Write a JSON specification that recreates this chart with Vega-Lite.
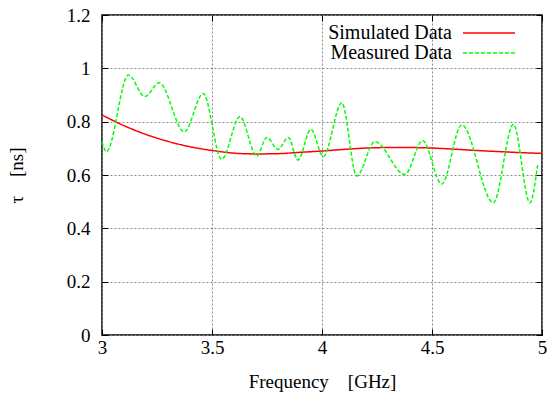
{
  "$schema": "https://vega.github.io/schema/vega-lite/v6.json",
  "width": 440,
  "height": 320,
  "autosize": {"type": "none"},
  "padding": {"left": 102, "top": 15, "right": 6, "bottom": 64},
  "background": "#ffffff",
  "config": {
    "view": {"stroke": "#000000", "strokeWidth": 1.5},
    "font": "Liberation Serif",
    "axis": {
      "labelFont": "Liberation Serif", "labelFontSize": 19, "labelColor": "#000000",
      "titleFont": "Liberation Serif", "titleFontSize": 19, "titleFontWeight": "normal", "titleColor": "#000000",
      "domain": false, "tickColor": "#000000", "tickSize": -6, "tickWidth": 1,
      "gridColor": "#888888", "gridDash": [2, 2], "gridWidth": 1
    },
    "legend": {
      "labelFont": "Liberation Serif", "labelFontSize": 20, "labelColor": "#000000",
      "labelAlign": "right", "labelOffset": -47, "labelLimit": 400,
      "symbolType": "M-5.2,0H5.2", "symbolSize": 100, "symbolStrokeWidth": 1.5,
      "rowPadding": 0, "padding": 0
    }
  },
  "data": {
    "values": [
      {"f": 3.0, "tau": 0.825, "series": "Simulated Data"},
      {"f": 3.1, "tau": 0.785, "series": "Simulated Data"},
      {"f": 3.2, "tau": 0.752, "series": "Simulated Data"},
      {"f": 3.3, "tau": 0.726, "series": "Simulated Data"},
      {"f": 3.4, "tau": 0.706, "series": "Simulated Data"},
      {"f": 3.5, "tau": 0.692, "series": "Simulated Data"},
      {"f": 3.6, "tau": 0.682, "series": "Simulated Data"},
      {"f": 3.7, "tau": 0.679, "series": "Simulated Data"},
      {"f": 3.8, "tau": 0.68, "series": "Simulated Data"},
      {"f": 3.9, "tau": 0.685, "series": "Simulated Data"},
      {"f": 4.0, "tau": 0.69, "series": "Simulated Data"},
      {"f": 4.1, "tau": 0.696, "series": "Simulated Data"},
      {"f": 4.2, "tau": 0.701, "series": "Simulated Data"},
      {"f": 4.3, "tau": 0.703, "series": "Simulated Data"},
      {"f": 4.4, "tau": 0.703, "series": "Simulated Data"},
      {"f": 4.5, "tau": 0.701, "series": "Simulated Data"},
      {"f": 4.6, "tau": 0.697, "series": "Simulated Data"},
      {"f": 4.7, "tau": 0.692, "series": "Simulated Data"},
      {"f": 4.8, "tau": 0.688, "series": "Simulated Data"},
      {"f": 4.9, "tau": 0.684, "series": "Simulated Data"},
      {"f": 5.0, "tau": 0.681, "series": "Simulated Data"},
      {"f": 3.0, "tau": 0.725, "series": "Measured Data"},
      {"f": 3.02, "tau": 0.687, "series": "Measured Data"},
      {"f": 3.12, "tau": 0.975, "series": "Measured Data"},
      {"f": 3.195, "tau": 0.894, "series": "Measured Data"},
      {"f": 3.26, "tau": 0.946, "series": "Measured Data"},
      {"f": 3.374, "tau": 0.762, "series": "Measured Data"},
      {"f": 3.46, "tau": 0.906, "series": "Measured Data"},
      {"f": 3.544, "tau": 0.659, "series": "Measured Data"},
      {"f": 3.627, "tau": 0.819, "series": "Measured Data"},
      {"f": 3.703, "tau": 0.671, "series": "Measured Data"},
      {"f": 3.749, "tau": 0.741, "series": "Measured Data"},
      {"f": 3.8, "tau": 0.696, "series": "Measured Data"},
      {"f": 3.847, "tau": 0.741, "series": "Measured Data"},
      {"f": 3.89, "tau": 0.656, "series": "Measured Data"},
      {"f": 3.95, "tau": 0.771, "series": "Measured Data"},
      {"f": 4.006, "tau": 0.669, "series": "Measured Data"},
      {"f": 4.09, "tau": 0.871, "series": "Measured Data"},
      {"f": 4.158, "tau": 0.596, "series": "Measured Data"},
      {"f": 4.24, "tau": 0.725, "series": "Measured Data"},
      {"f": 4.377, "tau": 0.602, "series": "Measured Data"},
      {"f": 4.457, "tau": 0.729, "series": "Measured Data"},
      {"f": 4.544, "tau": 0.566, "series": "Measured Data"},
      {"f": 4.635, "tau": 0.788, "series": "Measured Data"},
      {"f": 4.779, "tau": 0.496, "series": "Measured Data"},
      {"f": 4.87, "tau": 0.79, "series": "Measured Data"},
      {"f": 4.945, "tau": 0.496, "series": "Measured Data"},
      {"f": 4.98, "tau": 0.637, "series": "Measured Data"}
    ]
  },
  "layer": [
    {
      "mark": {"type": "line", "strokeWidth": 1.5, "interpolate": "monotone"},
      "encoding": {
        "x": {"field": "f", "type": "quantitative",
              "scale": {"domain": [3, 5], "nice": false, "zero": false},
              "axis": {"title": "Frequency\u00a0\u00a0\u00a0\u00a0[GHz]", "values": [3, 3.5, 4, 4.5, 5], "format": ".1~f", "labelPadding": 9, "titlePadding": 15, "labelFlush": false}},
        "y": {"field": "tau", "type": "quantitative",
              "scale": {"domain": [0, 1.2], "nice": false},
              "axis": {"title": "τ\u00a0\u00a0\u00a0\u00a0[ns]", "values": [0, 0.2, 0.4, 0.6, 0.8, 1, 1.2], "format": ".1~f", "labelPadding": 18, "titlePadding": 40, "labelFlush": false}},
        "color": {"field": "series", "type": "nominal",
                  "scale": {"domain": ["Simulated Data", "Measured Data"], "range": ["#ff0000", "#00ff00"]},
                  "legend": {"title": null, "orient": "none", "legendX": 377, "legendY": 8}},
        "strokeDash": {"field": "series", "type": "nominal",
                  "scale": {"domain": ["Simulated Data", "Measured Data"], "range": [[1, 0], [4, 2]]},
                  "legend": {"title": null, "orient": "none", "legendX": 377, "legendY": 8}}
      }
    },
    {
      "mark": {"type": "point", "opacity": 0},
      "encoding": {
        "x": {"field": "f", "type": "quantitative",
              "axis": {"orient": "top", "title": null, "labels": false, "grid": false, "values": [3, 3.5, 4, 4.5, 5]}},
        "y": {"field": "tau", "type": "quantitative",
              "axis": {"orient": "right", "title": null, "labels": false, "grid": false, "values": [0, 0.2, 0.4, 0.6, 0.8, 1, 1.2]}}
      }
    }
  ],
  "resolve": {"axis": {"x": "independent", "y": "independent"}}
}
